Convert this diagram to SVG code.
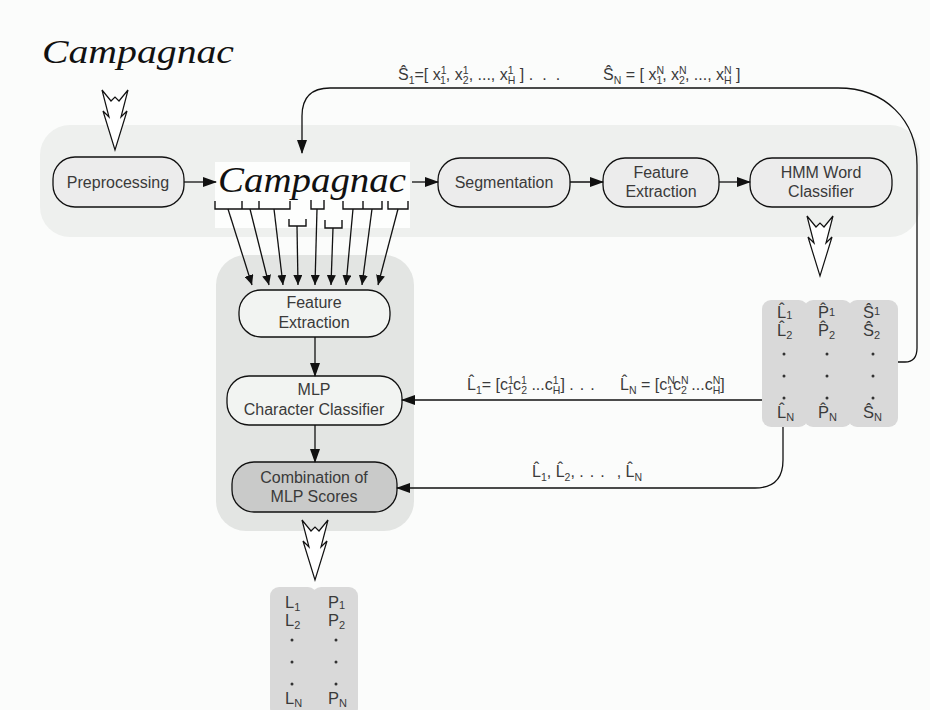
<svg xmlns="http://www.w3.org/2000/svg" width="930" height="710" viewBox="0 0 930 710">
  <defs>
    <style>
      .bg { fill: #fbfcfb; }
      .node { fill: #ececec; stroke: #111; stroke-width: 1.3; }
      .node-light { fill: #f2f4f2; stroke: #111; stroke-width: 1.3; }
      .node-dark { fill: #c9cac9; stroke: #111; stroke-width: 1.3; }
      .lbl { font-family: "Liberation Sans", Arial, sans-serif; font-size: 16px; fill: #3a3a3a; text-anchor: middle; }
      .f { font-family: "Liberation Sans", Arial, sans-serif; font-size: 16px; fill: #3a3a3a; }
      .s { font-size: 10.5px; }
      .lst { font-family: "Liberation Sans", Arial, sans-serif; font-size: 16.5px; fill: #3a3a3a; }
      .ls { font-size: 11px; }
      .hand { font-family: "Liberation Serif", "DejaVu Serif", serif; font-style: italic; fill: #111; }
      .wire { fill: none; stroke: #111; stroke-width: 1.3; }
      .tick { fill: none; stroke: #111; stroke-width: 1.4; }
      .hollow { fill: #ffffff; stroke: #111; stroke-width: 1.2; stroke-linejoin: miter; }
      .list { fill: #d9d9d9; }
      .dot { fill: #333; }
    </style>
    <marker id="ah" viewBox="0 0 14 10" refX="13" refY="5" markerWidth="14" markerHeight="10" markerUnits="userSpaceOnUse" orient="auto">
      <path d="M0,0 L14,5 L0,10 z" fill="#111"/>
    </marker>
    <marker id="ahs" viewBox="0 0 10 9" refX="10" refY="4.5" markerWidth="10" markerHeight="9" markerUnits="userSpaceOnUse" orient="auto">
      <path d="M0,0 L10,4.5 L0,9 z" fill="#111"/>
    </marker>
    <!-- hollow double-chevron flow arrow, about 26 wide, 60 tall, tip at (0,60) -->
    <polygon id="bigArrow" class="hollow" points="-13,0 -4,11 0,7 4,11 13,0 6,27 12,21 0,60 -12,21 -6,27"/>
  </defs>

  <rect class="bg" x="0" y="0" width="930" height="710"/>

  <!-- background panels -->
  <rect x="40" y="125" width="880" height="112" rx="30" fill="#eef0ee"/>
  <rect x="216" y="255" width="198" height="276" rx="30" fill="#e3e5e3"/>

  <!-- raw handwritten input -->
  <g id="input-word">
    <text class="hand" x="42" y="63" font-size="33" textLength="192" lengthAdjust="spacingAndGlyphs">Campagnac</text>
  </g>
  <use href="#bigArrow" x="115" y="90"/>

  <g id="preprocessing">
    <rect class="node" x="53" y="157" width="131" height="50" rx="22"/>
    <text class="lbl" x="118" y="188">Preprocessing</text>
  </g>

  <g id="word-image">
    <rect x="215" y="162" width="195" height="66" fill="#fdfefd"/>
    <text class="hand" x="218" y="192" font-size="35" textLength="188" lengthAdjust="spacingAndGlyphs">Campagnac</text>
  </g>

  <g id="segmentation">
    <rect class="node" x="438" y="158" width="132" height="49" rx="22"/>
    <text class="lbl" x="504" y="188">Segmentation</text>
  </g>

  <g id="feature-extraction-word">
    <rect class="node" x="603" y="158" width="116" height="49" rx="22"/>
    <text class="lbl" x="661" y="178">Feature</text>
    <text class="lbl" x="661" y="197">Extraction</text>
  </g>

  <g id="hmm-classifier">
    <rect class="node" x="750" y="158" width="142" height="49" rx="22"/>
    <text class="lbl" x="821" y="178">HMM Word</text>
    <text class="lbl" x="821" y="197">Classifier</text>
  </g>
  <use href="#bigArrow" x="820" y="216"/>

  <!-- N-best list from the HMM classifier -->
  <g id="hmm-output">
    <rect class="list" x="762" y="300" width="46" height="127" rx="9"/>
    <rect class="list" x="804" y="300" width="48" height="127" rx="9"/>
    <rect class="list" x="848" y="300" width="50" height="127" rx="9"/>
    <text class="lst" x="777" y="318">L&#x302;<tspan class="ls" dy="1">1</tspan></text>
    <text class="lst" x="777" y="336">L&#x302;<tspan class="ls" dy="3">2</tspan></text>
    <text class="lst" x="777" y="418">L&#x302;<tspan class="ls" dy="3">N</tspan></text>
    <text class="lst" x="818" y="318">P&#x302;<tspan class="ls" dy="-2">1</tspan></text>
    <text class="lst" x="818" y="336">P&#x302;<tspan class="ls" dy="3">2</tspan></text>
    <text class="lst" x="818" y="418">P&#x302;<tspan class="ls" dy="3">N</tspan></text>
    <text class="lst" x="863" y="318">Ŝ<tspan class="ls" dy="-3">1</tspan></text>
    <text class="lst" x="863" y="336">Ŝ<tspan class="ls" dy="3">2</tspan></text>
    <text class="lst" x="863" y="418">Ŝ<tspan class="ls" dy="3">N</tspan></text>
    <circle class="dot" cx="784" cy="354" r="1.5"/><circle class="dot" cx="784" cy="376" r="1.5"/><circle class="dot" cx="784" cy="398" r="1.5"/>
    <circle class="dot" cx="827" cy="354" r="1.5"/><circle class="dot" cx="827" cy="376" r="1.5"/><circle class="dot" cx="827" cy="398" r="1.5"/>
    <circle class="dot" cx="873" cy="354" r="1.5"/><circle class="dot" cx="873" cy="376" r="1.5"/><circle class="dot" cx="873" cy="398" r="1.5"/>
  </g>

  <g id="feature-extraction-char">
    <rect class="node-light" x="239" y="290" width="151" height="47" rx="22"/>
    <text class="lbl" x="314" y="308">Feature</text>
    <text class="lbl" x="314" y="328">Extraction</text>
  </g>

  <g id="mlp-classifier">
    <rect class="node-light" x="227" y="376" width="175" height="49" rx="22"/>
    <text class="lbl" x="314" y="395">MLP</text>
    <text class="lbl" x="314" y="415">Character Classifier</text>
  </g>

  <g id="combination">
    <rect class="node-dark" x="232" y="462" width="165" height="50" rx="22"/>
    <text class="lbl" x="314" y="483">Combination of</text>
    <text class="lbl" x="314" y="502">MLP Scores</text>
  </g>
  <use href="#bigArrow" x="315" y="520"/>

  <!-- final re-ranked list -->
  <g id="final-output">
    <rect class="list" x="270" y="587" width="47" height="130" rx="9"/>
    <rect class="list" x="312" y="587" width="46" height="130" rx="9"/>
    <text class="lst" x="285" y="608">L<tspan class="ls" dy="3">1</tspan></text>
    <text class="lst" x="285" y="626">L<tspan class="ls" dy="3">2</tspan></text>
    <text class="lst" x="285" y="704">L<tspan class="ls" dy="3">N</tspan></text>
    <text class="lst" x="328" y="608">P<tspan class="ls" dy="1">1</tspan></text>
    <text class="lst" x="328" y="626">P<tspan class="ls" dy="3">2</tspan></text>
    <text class="lst" x="328" y="704">P<tspan class="ls" dy="3">N</tspan></text>
    <circle class="dot" cx="292" cy="640" r="1.5"/><circle class="dot" cx="292" cy="662" r="1.5"/><circle class="dot" cx="292" cy="684" r="1.5"/>
    <circle class="dot" cx="336" cy="640" r="1.5"/><circle class="dot" cx="336" cy="662" r="1.5"/><circle class="dot" cx="336" cy="684" r="1.5"/>
  </g>

  <!-- connectors -->
  <g id="connectors">
    <path class="wire" d="M184,182 L216,182" marker-end="url(#ah)"/>
    <path class="wire" d="M412,182 L438,182" marker-end="url(#ah)"/>
    <path class="wire" d="M570,182 L603,182" marker-end="url(#ah)"/>
    <path class="wire" d="M719,182 L750,182" marker-end="url(#ah)"/>

    <!-- feedback of the segmentation hypotheses -->
    <path class="wire" d="M898,362 L905,362 Q917,362 917,348 L917,165 C917,120 885,88 838,88 L330,88 Q302,88 302,116 L302,153" marker-end="url(#ah)"/>

    <!-- character segments -->
    <path class="tick" d="M215,201 L215,209 L290,209 L290,201 M242,201 L242,209 M259,201 L259,209"/>
    <path class="tick" d="M289,219 L289,226 L306,226 L306,219"/>
    <path class="tick" d="M311,200 L311,209 L324,209 L324,200"/>
    <path class="tick" d="M325,220 L325,228 L342,228 L342,220"/>
    <path class="tick" d="M343,201 L343,209 L382,209 L382,201 M363,201 L363,209"/>
    <path class="tick" d="M388,201 L388,209 L408,209 L408,201"/>
    <path class="wire" d="M228,209 L252,285" marker-end="url(#ahs)"/>
    <path class="wire" d="M250,209 L269,285" marker-end="url(#ahs)"/>
    <path class="wire" d="M274,209 L283,285" marker-end="url(#ahs)"/>
    <path class="wire" d="M297,226 L298,285" marker-end="url(#ahs)"/>
    <path class="wire" d="M317,209 L315,285" marker-end="url(#ahs)"/>
    <path class="wire" d="M333,228 L331,285" marker-end="url(#ahs)"/>
    <path class="wire" d="M353,209 L346,285" marker-end="url(#ahs)"/>
    <path class="wire" d="M372,209 L362,285" marker-end="url(#ahs)"/>
    <path class="wire" d="M398,209 L378,285" marker-end="url(#ahs)"/>

    <path class="wire" d="M315,337 L315,376" marker-end="url(#ah)"/>
    <path class="wire" d="M315,425 L315,462" marker-end="url(#ah)"/>

    <path class="wire" d="M762,400 L402,400" marker-end="url(#ah)"/>
    <path class="wire" d="M783,427 L783,460 Q783,488 755,488 L397,488" marker-end="url(#ah)"/>
  </g>

  <!-- connector labels -->
  <g id="labels">
    <text class="f" x="398" y="80">Ŝ<tspan class="s" dy="4">1</tspan><tspan dy="-4">=[ x</tspan><tspan class="s" dy="-6">1</tspan><tspan class="s" dx="-5.8" dy="10">1</tspan><tspan dy="-4">, x</tspan><tspan class="s" dy="-6">1</tspan><tspan class="s" dx="-5.8" dy="10">2</tspan><tspan dy="-4">, ..., x</tspan><tspan class="s" dy="-6">1</tspan><tspan class="s" dx="-5.8" dy="10">H</tspan><tspan dy="-4"> ] .</tspan><tspan dx="9">.</tspan><tspan dx="9">.</tspan></text>
    <text class="f" x="603" y="80">Ŝ<tspan class="s" dy="4">N</tspan><tspan dy="-4"> = [ x</tspan><tspan class="s" dy="-6">N</tspan><tspan class="s" dx="-7.6" dy="10">1</tspan><tspan dy="-4">, x</tspan><tspan class="s" dy="-6">N</tspan><tspan class="s" dx="-7.6" dy="10">2</tspan><tspan dy="-4">, ..., x</tspan><tspan class="s" dy="-6">N</tspan><tspan class="s" dx="-7.6" dy="10">H</tspan><tspan dy="-4"> ]</tspan></text>

    <text class="f" x="467" y="390">L&#x302;<tspan class="s" dy="4">1</tspan><tspan dy="-4">= [c</tspan><tspan class="s" dy="-6">1</tspan><tspan class="s" dx="-5.8" dy="10">1</tspan><tspan dy="-4">c</tspan><tspan class="s" dy="-6">1</tspan><tspan class="s" dx="-5.8" dy="10">2</tspan><tspan dy="-4"> ...c</tspan><tspan class="s" dy="-6">1</tspan><tspan class="s" dx="-5.8" dy="10">H</tspan><tspan dy="-4">] .</tspan><tspan dx="6">.</tspan><tspan dx="6">.</tspan></text>
    <text class="f" x="620" y="390">L&#x302;<tspan class="s" dy="4">N</tspan><tspan dy="-4"> = [c</tspan><tspan class="s" dy="-6">N</tspan><tspan class="s" dx="-7.6" dy="10">1</tspan><tspan dy="-4">c</tspan><tspan class="s" dy="-6">N</tspan><tspan class="s" dx="-7.6" dy="10">2</tspan><tspan dy="-4"> ...c</tspan><tspan class="s" dy="-6">N</tspan><tspan class="s" dx="-7.6" dy="10">H</tspan><tspan dy="-4">]</tspan></text>

    <text class="f" x="532" y="477">L&#x302;<tspan class="s" dy="4">1</tspan><tspan dy="-4">, L&#x302;</tspan><tspan class="s" dy="4">2</tspan><tspan dy="-4">, .</tspan><tspan dx="6">.</tspan><tspan dx="6">.</tspan><tspan dx="12">, L&#x302;</tspan><tspan class="s" dy="4">N</tspan></text>
  </g>
</svg>
